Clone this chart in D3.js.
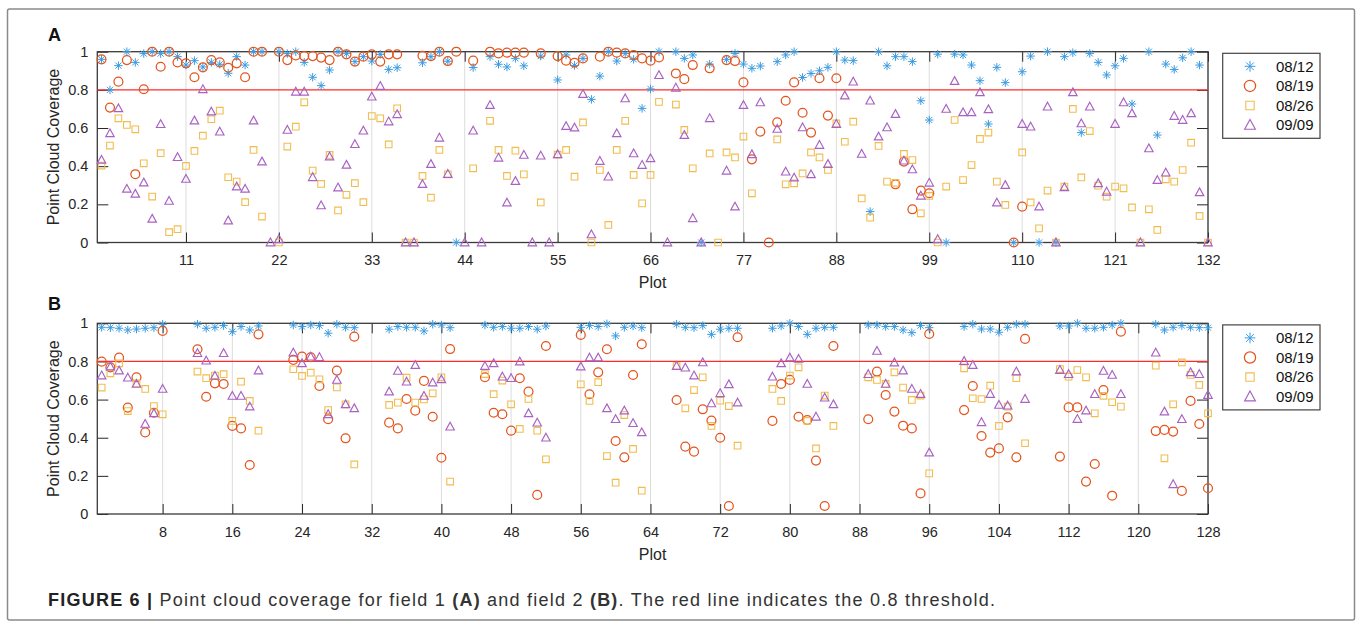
<!DOCTYPE html>
<html>
<head>
<meta charset="utf-8">
<script src="https://cdn.jsdelivr.net/npm/d3@7"></script>
<style>
  body { margin: 0; background: #fff; }
  svg text { font-family: "Liberation Sans", Arial, Helvetica, sans-serif; }
</style>
</head>
<body>
<svg id="chart" width="1362" height="627"></svg>
<script>
var n = null;

var seriesNames = ["08/12", "08/19", "08/26", "09/09"];
var ticksA = [11, 22, 33, 44, 55, 66, 77, 88, 99, 110, 121, 132];
var ticksB = [8, 16, 24, 32, 40, 48, 56, 64, 72, 80, 88, 96, 104, 112, 120, 128];
var yTicks = [0, 0.2, 0.4, 0.6, 0.8, 1];
var threshold = 0.8;

// Field 1 (A), plots 1..132, rows of 11 plots
var a0812 = [0.96, 0.80, 0.927, 1.0, 0.944, 0.99, 1.0, 0.99, 1.0, 0.974, 0.93,
  0.953, 0.92, 0.944, 0.934, 0.887, 0.974, 0.93, 1.0, 1.0, n, 1.0,
  0.99, 1.0, 0.944, 0.866, 0.822, 0.904, 1.0, 0.99, 0.948, 0.974, 0.951,
  0.986, 0.907, 0.916, n, n, 0.942, 0.974, 1.0, 0.95, 0, n,
  0.917, n, 0.974, 0.934, 0.92, 0.965, 0.926, n, 0.977, n, 0.852,
  0.983, 0.928, 0.965, 0.75, 0.872, 1.0, 0.951, 0.99, 0.96, 0.703, 0.805,
  1.0, n, 1.0, 0.965, 0.983, 0, 0.935, n, 0.96, 0.991, 0.935,
  0.913, 0.925, n, 0.948, 0.983, 1.0, 0.865, 0.886, 0.9, 0.918, 1.0,
  0.956, 0.953, n, 0.162, 1.0, 0.926, 0.974, 0.974, 0.948, 0.743, 0.642,
  0.987, 0, 0.987, 0.983, 0.93, 0.848, 0.621, 0.918, 0.838, 0, 0.895,
  0.977, 0, 1.0, 0, 0.974, 0.995, 0.576, 0.991, 0.944, 0.878, 0.926,
  0.965, 0.726, n, 1.0, 0.563, 0.935, 0.907, 0.968, 1.0, 0.93, n];
var a0819 = [0.96, 0.707, 0.843, 0.956, 0.358, 0.803, 1.0, 0.921, 1.0, 0.944, 0.939,
  0.866, 0.918, 0.956, 0.944, 0.916, 0.939, 0.866, 1.0, 1.0, n, 1.0,
  0.956, 0.98, 0.977, 0.977, 0.969, 0.956, 1.0, 0.986, 0.948, 0.974, 0.986,
  0.948, 0.986, 0.986, n, n, 0.979, 0.977, 1.0, 0.951, 1.0, n,
  0.953, n, 1.0, 0.991, 0.995, 0.995, 0.995, n, 0.991, n, 0.977,
  0.953, 0.942, 0.965, n, 0.974, 1.0, 0.995, 0.991, 0.983, 0.965, 0.953,
  0.97, n, 0.886, 0.856, 0.93, n, 0.913, n, 0.956, 0.951, 0.839,
  0.436, 0.581, 0, 0.63, 0.743, 0.839, 0.68, 0.576, 0.861, 0.665, 0.861,
  n, n, n, n, n, n, 0.305, 0.424, 0.174, 0.272, 0.258,
  n, n, n, n, n, n, n, n, n, 0, 0.188,
  n, n, n, n, n, n, n, n, n, n, n,
  n, n, n, n, n, n, n, n, n, n, n];
var a0826 = [0.403, 0.508, 0.651, 0.616, 0.593, 0.415, 0.241, 0.468, 0.054, 0.07, 0.401,
  0.48, 0.56, 0.646, 0.691, 0.342, 0.319, 0.211, 0.485, 0.136, n, 0,
  0.503, 0.607, 0.735, 0.377, 0.307, 0.459, 0.168, 0.25, 0.311, 0.211, 0.663,
  0.651, 0.514, 0.703, 0, 0, 0.349, 0.235, 0.485, 0.357, n, n,
  0.389, n, 0.638, 0.485, 0.349, 0.481, 0.357, n, 0.21, n, 0.46,
  0.485, 0.345, 0.629, 0, 0.38, 0.092, 0.485, 0.638, 0.354, 0.205, 0.354,
  0.737, n, 0.723, 0.59, 0.389, n, 0.467, 0, 0.472, 0.446, 0.555,
  0.258, n, n, 0.54, 0.305, 0.31, 0.362, 0.472, 0.446, 0.38, 0.624,
  0.528, 0.633, 0.231, 0.13, 0.506, 0.319, 0.313, 0.464, 0.432, 0.153, 0.244,
  0, 0.293, 0.642, 0.327, 0.406, 0.543, 0.576, 0.319, 0.197, n, 0.472,
  0.21, 0.074, 0.272, 0, 0.293, 0.7, 0.341, 0.584, 0.298, 0.24, 0.293,
  0.284, 0.184, 0, 0.174, 0.066, 0.331, 0.319, 0.38, 0.523, 0.139, 0];
var a0909 = [0.433, 0.572, 0.703, 0.281, 0.255, 0.314, 0.124, 0.62, 0.218, 0.447, 0.333,
  0.639, 0.803, 0.686, 0.581, 0.115, 0.293, 0.281, 0.639, 0.424, 0, 0.017,
  0.59, 0.79, 0.79, 0.342, 0.194, 0.45, 0.288, 0.407, 0.515, 0.586, 0.764,
  0.82, 0.634, 0.672, 0, 0, 0.306, 0.411, 0.549, 0.359, n, 0,
  0.586, 0, 0.72, 0.444, 0.209, 0.322, 0.459, 0, 0.455, 0, 0.462,
  0.61, 0.602, 0.778, 0.042, 0.427, 0.345, 0.572, 0.755, 0.467, 0.406, 0.441,
  0.877, 0, 0.811, 0.563, 0.127, 0, 0.651, n, 0.376, 0.188, 0.72,
  0.462, 0.734, n, 0.595, 0.371, 0.34, 0.603, 0.357, 0.511, 0.411, 0.621,
  0.77, 0.843, 0.464, 0.743, 0.555, 0.603, 0.673, 0.429, 0.383, 0.245, 0.313,
  0.017, 0.7, 0.846, 0.682, 0.682, 0.787, 0.698, 0.209, 0.301, n, 0.621,
  0.607, 0.188, 0.712, 0, 0.289, 0.787, 0.624, 0.712, 0.31, 0.266, 0.621,
  0.734, 0.677, 0, 0.493, 0.327, 0.366, 0.663, 0.642, 0.677, 0.263, 0];

// Field 2 (B), plots 1..128, rows of 11 plots (8 measured + 3 empty)
var b0812 = [0.979, 0.977, 0.974, 0.965, 0.97, 0.974, 0.977, 0.995, n, n, n,
  0.995, 0.974, 0.979, 0.988, 0.956, 0.983, 0.965, 0.986, n, n, n,
  0.991, 0.983, 0.991, 0.988, 0.948, 0.995, 0.979, 0.977, n, n, n,
  0.969, 0.983, 0.979, 0.979, 0.96, 0.995, 0.991, 0.977, n, n, n,
  0.991, 0.979, 0.983, 0.974, 0.974, 0.983, 0.969, 0.986, n, n, n,
  0.979, 0.988, 0.983, 0.997, 0.934, 0.979, 0.986, 0.977, n, n, n,
  0.995, 0.979, 0.977, 0.988, 0.942, 0.969, 0.974, 0.974, n, n, n,
  0.974, 0.986, 1.0, 0.983, 0.942, 0.974, 0.979, 0.979, n, n, n,
  0.991, 0.991, 0.983, 0.983, 0.965, 0.951, 0.988, 0.977, n, n, n,
  0.983, 0.995, 0.97, 0.97, 0.953, 0.979, 0.995, 0.995, n, n, n,
  0.986, 0.986, 1.0, 0.974, 0.974, 0.979, 0.991, 1.0, n, n, n,
  0.995, 0.965, 0.979, 0.988, 0.979, 0.977, 0.977];
var b0819 = [0.799, 0.769, 0.82, 0.558, 0.717, 0.428, 0.531, 0.96, n, n, n,
  0.864, 0.615, 0.685, 0.682, 0.462, 0.449, 0.257, 0.942, n, n, n,
  0.808, 0.825, 0.822, 0.671, 0.497, 0.752, 0.397, 0.93, n, n, n,
  0.479, 0.449, 0.603, 0.542, 0.698, 0.51, 0.295, 0.865, n, n, n,
  0.717, 0.531, 0.523, 0.437, 0.712, 0.642, 0.1, 0.881, n, n, n,
  0.939, 0.628, 0.743, 0.864, 0.383, 0.297, 0.729, 0.89, n, n, n,
  0.598, 0.353, 0.327, 0.549, 0.49, 0.4, 0.042, 0.927, n, n, n,
  0.488, 0.682, 0.703, 0.51, 0.493, 0.28, 0.042, 0.881, n, n, n,
  0.497, 0.747, 0.624, 0.537, 0.463, 0.449, 0.108, 0.944, n, n, n,
  0.545, 0.671, 0.409, 0.322, 0.344, 0.507, 0.297, 0.918, n, n, n,
  0.301, 0.559, 0.559, 0.17, 0.262, 0.65, 0.096, 0.956, n, n, n,
  0.435, 0.441, 0.432, 0.121, 0.593, 0.472, 0.135];
var b0826 = [0.663, 0.738, 0.79, 0.54, 0.685, 0.656, 0.566, 0.523, n, n, n,
  0.747, 0.712, 0.726, 0.733, 0.488, 0.694, 0.593, 0.437, n, n, n,
  0.759, 0.724, 0.741, 0.706, 0.545, 0.664, 0.575, 0.26, n, n, n,
  0.572, 0.584, 0.715, 0.584, 0.601, 0.633, 0.717, 0.17, n, n, n,
  0.734, 0.628, 0.7, 0.575, 0.446, 0.603, 0.437, 0.287, n, n, n,
  0.68, 0.593, 0.691, 0.304, 0.164, 0.519, 0.341, 0.122, n, n, n,
  0.776, 0.554, 0.65, 0.717, 0.462, 0.594, 0.566, 0.358, n, n, n,
  0.656, 0.593, 0.726, 0.769, 0.488, 0.344, 0.621, 0.462, n, n, n,
  0.717, 0.703, 0.682, 0.743, 0.663, 0.598, 0.621, 0.213, n, n, n,
  0.764, 0.607, 0.603, 0.673, 0.462, 0.563, 0.712, 0.371, n, n, n,
  0.76, 0.72, 0.755, 0.717, 0.528, 0.62, 0.586, 0.563, n, n, n,
  0.778, 0.292, 0.575, 0.795, 0.729, 0.677, 0.528];
var b0909 = [0.726, 0.773, 0.752, 0.715, 0.682, 0.472, 0.528, 0.656, n, n, n,
  0.843, 0.804, 0.724, 0.843, 0.619, 0.619, 0.563, 0.752, n, n, n,
  0.846, 0.79, 0.825, 0.822, 0.523, 0.703, 0.575, 0.554, n, n, n,
  0.642, 0.75, 0.694, 0.781, 0.619, 0.689, 0.706, 0.458, n, n, n,
  0.776, 0.79, 0.72, 0.712, 0.799, 0.528, 0.479, 0.4, n, n, n,
  0.773, 0.82, 0.82, 0.554, 0.497, 0.542, 0.476, 0.428, n, n, n,
  0.776, 0.767, 0.726, 0.795, 0.58, 0.633, 0.68, 0.584, n, n, n,
  0.72, 0.79, 0.82, 0.813, 0.682, 0.51, 0.61, 0.575, n, n, n,
  0.733, 0.855, 0.682, 0.794, 0.752, 0.656, 0.629, 0.322, n, n, n,
  0.802, 0.781, 0.481, 0.629, 0.572, 0.568, 0.747, 0.603, n, n, n,
  0.755, 0.733, 0.498, 0.542, 0.628, 0.75, 0.729, 0.628, n, n, n,
  0.846, 0.537, 0.156, 0.497, 0.743, 0.733, 0.624];

var svg = d3.select("#chart");
var plotLeft = 97.3, plotRight = 1208;
var textColor = "#262626";

// marker shapes (MATLAB style: * o s ^)
var asterisk = { draw: function(c, size) {
  var r = Math.sqrt(size) / 2, d = r * 0.72;
  c.moveTo(0, -r); c.lineTo(0, r);
  c.moveTo(-r, 0); c.lineTo(r, 0);
  c.moveTo(-d, -d); c.lineTo(d, d);
  c.moveTo(-d, d); c.lineTo(d, -d);
}};
var squareOpen = { draw: function(c, size) {
  var h = Math.sqrt(size) / 2;
  c.rect(-h, -h, 2 * h, 2 * h);
}};
var triangleUp = { draw: function(c, size) {
  var w = Math.sqrt(size) / 2;
  c.moveTo(0, -w * 1.05); c.lineTo(w, w * 0.78); c.lineTo(-w, w * 0.78); c.closePath();
}};
var markers = [
  { color: "#3b9be0", type: asterisk, size: 72, width: 1 },
  { color: "#e4541d", type: d3.symbolCircle, size: 62, width: 1.25 },
  { color: "#f2bd4f", type: squareOpen, size: 44, width: 1.1 },
  { color: "#a862c2", type: triangleUp, size: 72, width: 1.15 }
];

var panels = [
  { label: "A", top: 51.7, bottom: 242.5, count: 132, ticks: ticksA,
    series: [a0812, a0819, a0826, a0909], labelY: 40.7 },
  { label: "B", top: 323.3, bottom: 514, count: 128, ticks: ticksB,
    series: [b0812, b0819, b0826, b0909], labelY: 310 }
];

// outer frame
svg.append("rect")
  .attr("x", 7.5).attr("y", 9).attr("width", 1347).attr("height", 611)
  .attr("rx", 2)
  .attr("fill", "none").attr("stroke", "#8a8a8a").attr("stroke-width", 1.5);

panels.forEach(function(p) {
  var x = d3.scaleLinear().domain([0.5, p.count]).range([plotLeft, plotRight]);
  var y = d3.scaleLinear().domain([0, 1]).range([p.bottom, p.top]);
  var g = svg.append("g");

  // vertical grid
  g.selectAll("line.grid")
    .data(p.ticks)
    .enter()
    .append("line")
    .attr("class", "grid")
    .attr("x1", d => x(d)).attr("x2", d => x(d))
    .attr("y1", y(0)).attr("y2", y(1))
    .attr("stroke", "#dcdcdc").attr("stroke-width", 1);

  // axes, ticks pointing inward
  function clean(sel) {
    sel.attr("font-size", null).attr("font-family", null).attr("color", textColor);
    sel.select(".domain").remove();
    sel.selectAll("line").attr("stroke-width", 1);
    sel.selectAll("text").attr("fill", textColor).style("font-size", "14.5px");
  }
  g.append("g")
    .attr("transform", `translate(0, ${y(0)})`)
    .call(d3.axisBottom(x).tickValues(p.ticks).tickSizeInner(-10).tickSizeOuter(0).tickPadding(12.5))
    .call(clean);
  g.append("g")
    .attr("transform", `translate(0, ${y(1)})`)
    .call(d3.axisTop(x).tickValues(p.ticks).tickSizeInner(-10).tickSizeOuter(0).tickFormat(""))
    .call(clean);
  g.append("g")
    .attr("transform", `translate(${plotLeft}, 0)`)
    .call(d3.axisLeft(y).tickValues(yTicks).tickSizeInner(-11).tickSizeOuter(0).tickPadding(9)
      .tickFormat(d => String(d)))
    .call(clean);
  g.append("g")
    .attr("transform", `translate(${plotRight}, 0)`)
    .call(d3.axisRight(y).tickValues(yTicks).tickSizeInner(-11).tickSizeOuter(0).tickFormat(""))
    .call(clean);

  // axes box
  g.append("rect")
    .attr("x", plotLeft).attr("y", y(1))
    .attr("width", plotRight - plotLeft).attr("height", y(0) - y(1))
    .attr("fill", "none").attr("stroke", "#3a3a3a").attr("stroke-width", 1.3);

  // threshold line
  g.append("line")
    .attr("x1", plotLeft).attr("x2", plotRight)
    .attr("y1", y(threshold)).attr("y2", y(threshold))
    .attr("stroke", "#ff2a2a").attr("stroke-width", 1.2);

  // markers
  p.series.forEach(function(values, si) {
    var m = markers[si];
    var pts = values.map((v, i) => ({ plot: i + 1, v: v })).filter(d => d.v !== null);
    g.append("g")
      .selectAll("path")
      .data(pts)
      .enter()
      .append("path")
      .attr("transform", d => `translate(${x(d.plot)}, ${y(d.v)})`)
      .attr("d", d3.symbol().type(m.type).size(m.size))
      .attr("fill", "none")
      .attr("stroke", m.color)
      .attr("stroke-width", m.width);
  });

  // axis labels
  g.append("text")
    .attr("x", (plotLeft + plotRight) / 2).attr("y", p.bottom + 45.5)
    .attr("text-anchor", "middle")
    .attr("fill", textColor)
    .style("font-size", "16px")
    .text("Plot");
  g.append("text")
    .attr("transform", `translate(58.5, ${(p.top + p.bottom) / 2}) rotate(-90)`)
    .attr("text-anchor", "middle")
    .attr("fill", textColor)
    .style("font-size", "16px")
    .text("Point Cloud Coverage");

  // panel letter
  g.append("text")
    .attr("x", 48).attr("y", p.labelY)
    .attr("fill", "#111")
    .style("font-size", "18px").style("font-weight", "bold")
    .text(p.label);

  // legend
  var lg = g.append("g").attr("transform", `translate(1222.7, ${p.top + 1.6})`);
  lg.append("rect")
    .attr("width", 97.3).attr("height", 85)
    .attr("fill", "#fff").attr("stroke", "#444").attr("stroke-width", 1.2);
  seriesNames.forEach(function(name, si) {
    var m = markers[si];
    var ry = 13 + si * 19.6;
    lg.append("path")
      .attr("transform", `translate(27.3, ${ry})`)
      .attr("d", d3.symbol().type(m.type).size(m.size * 1.6))
      .attr("fill", "none").attr("stroke", m.color).attr("stroke-width", m.width);
    lg.append("text")
      .attr("x", 53.3).attr("y", ry).attr("dy", "0.36em")
      .attr("fill", "#111")
      .style("font-size", "15px")
      .text(name);
  });
});

// caption
var cap = svg.append("text")
  .attr("x", 48).attr("y", 606)
  .attr("fill", "#333")
  .attr("textLength", 947)
  .attr("lengthAdjust", "spacing")
  .style("font-size", "18px");
cap.append("tspan").style("font-weight", "bold").attr("fill", "#222").text("FIGURE 6 | ");
cap.append("tspan").text("Point cloud coverage for field 1 ");
cap.append("tspan").style("font-weight", "bold").text("(A)");
cap.append("tspan").text(" and field 2 ");
cap.append("tspan").style("font-weight", "bold").text("(B)");
cap.append("tspan").text(". The red line indicates the 0.8 threshold.");
</script>
</body>
</html>
